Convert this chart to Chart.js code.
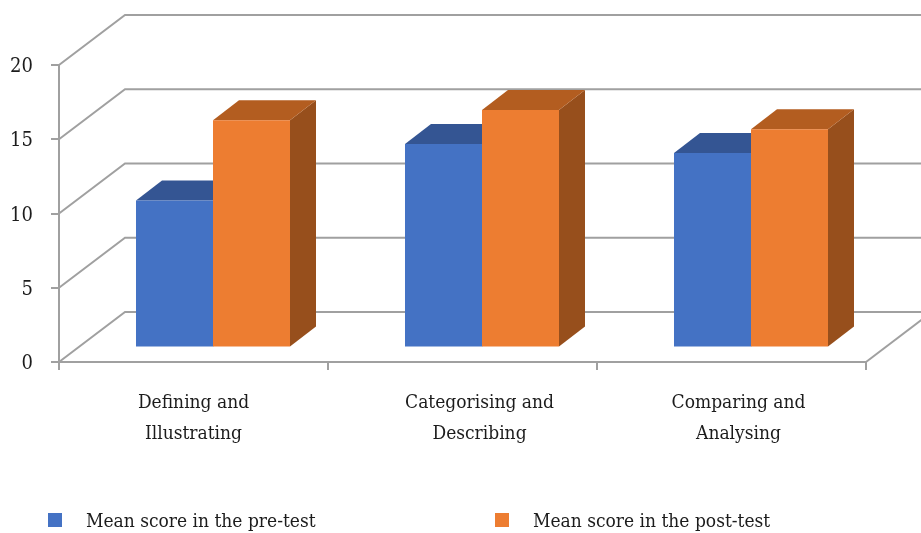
<!DOCTYPE html>
<html>
<head>
<meta charset="utf-8">
<title>Mean scores</title>
<script src="https://cdn.jsdelivr.net/npm/chart.js@4"></script>
<style>
    html, body { margin: 0; padding: 0; background: #fff; }
    canvas { display: block; }
</style>
</head>
<body>
<canvas id="scoreChart" width="921" height="533"></canvas>
<script>
const categories = [
    ['Defining and', 'Illustrating'],
    ['Categorising and', 'Describing'],
    ['Comparing and', 'Analysing']
];
const preTest = [9.9, 13.7, 13.1];
const postTest = [15.3, 16, 14.7];
const yTicks = [0, 5, 10, 15, 20];

const fontFamily = '"DejaVu Serif Condensed", "Liberation Serif", serif';
const fontSize = 19;
const gridColor = '#a0a0a0';
const textColor = '#1c1c1c';

// oblique projection of the fake 3D box
const wall = { dx: 66, dy: -50 };    // front plane to back wall
const barShift = { dx: 19.5, dy: -14.5 }; // bars stand a bit inside the floor
const barDepth = { dx: 26, dy: -20 };

// the labels in the picture are not centred on their slots
const labelNudge = [0, 17, 7];

function fillPoly(ctx, color, pts) {
    ctx.fillStyle = color;
    ctx.beginPath();
    pts.forEach(function(p, i) {
        if (i === 0) ctx.moveTo(p[0], p[1]);
        else ctx.lineTo(p[0], p[1]);
    });
    ctx.closePath();
    ctx.fill();
}

const box3d = {
    id: 'box3d',
    beforeDraw: function(chart) {
        const xScale = chart.scales.x;
        const yScale = chart.scales.y;
        xScale.getLabelItems(chart.chartArea).forEach(function(item, i) {
            item.options.translation[0] = xScale.getPixelForTick(i) + labelNudge[i];
        });
        // this font sits a little high on the middle baseline
        yScale.getLabelItems(chart.chartArea).forEach(function(item, i) {
            item.options.translation[1] = yScale.getPixelForTick(i) + 2;
        });
    },
    beforeDatasetsDraw: function(chart) {
        const ctx = chart.ctx;
        const area = chart.chartArea;
        const yScale = chart.scales.y;

        // side wall and back wall lines
        ctx.save();
        ctx.strokeStyle = gridColor;
        ctx.lineWidth = 2;
        yTicks.forEach(function(v) {
            const y = yScale.getPixelForValue(v);
            ctx.beginPath();
            ctx.moveTo(area.left, y);
            ctx.lineTo(area.left + wall.dx, y + wall.dy);
            ctx.lineTo(area.right + wall.dx, y + wall.dy);
            ctx.stroke();
        });
        // right edge of the floor
        ctx.beginPath();
        ctx.moveTo(area.right, area.bottom);
        ctx.lineTo(area.right + wall.dx, area.bottom + wall.dy);
        ctx.stroke();
        ctx.restore();

        // top and side faces go under the front faces
        ctx.save();
        ctx.translate(barShift.dx, barShift.dy);
        chart.data.datasets.forEach(function(ds, i) {
            chart.getDatasetMeta(i).data.forEach(function(bar) {
                const l = bar.x - bar.width / 2;
                const r = bar.x + bar.width / 2;
                fillPoly(ctx, ds.sideColor, [
                    [r, bar.y],
                    [r + barDepth.dx, bar.y + barDepth.dy],
                    [r + barDepth.dx, bar.base + barDepth.dy],
                    [r, bar.base]
                ]);
                fillPoly(ctx, ds.topColor, [
                    [l, bar.y],
                    [l + barDepth.dx, bar.y + barDepth.dy],
                    [r + barDepth.dx, bar.y + barDepth.dy],
                    [r, bar.y]
                ]);
            });
        });
        ctx.restore();

        // fronts are drawn by Chart.js, just moved into the box
        ctx.save();
        ctx.translate(barShift.dx, barShift.dy);
    },
    afterDatasetsDraw: function(chart) {
        chart.ctx.restore();
    }
};

// legend has a wide gap after the swatch, so it is drawn by hand
const legendSpots = [{ box: 48, text: 86 }, { box: 495, text: 533 }];
const wideLegend = {
    id: 'wideLegend',
    afterDraw: function(chart) {
        const ctx = chart.ctx;
        ctx.save();
        ctx.font = fontSize + 'px ' + fontFamily;
        ctx.textBaseline = 'middle';
        chart.data.datasets.forEach(function(ds, i) {
            ctx.fillStyle = ds.backgroundColor;
            ctx.fillRect(legendSpots[i].box, 513, 14, 14);
            ctx.fillStyle = textColor;
            ctx.fillText(ds.label, legendSpots[i].text, 522);
        });
        ctx.restore();
    }
};

new Chart(document.getElementById('scoreChart'), {
    type: 'bar',
    data: {
        labels: categories,
        datasets: [{
            label: 'Mean score in the pre-test',
            data: preTest,
            backgroundColor: '#4472C4',
            topColor: '#345593',
            sideColor: '#2b4a80'
        }, {
            label: 'Mean score in the post-test',
            data: postTest,
            backgroundColor: '#ED7D31',
            topColor: '#B35D20',
            sideColor: '#974F1C'
        }]
    },
    options: {
        responsive: false,
        animation: false,
        layout: {
            padding: { top: 65, right: 55 }
        },
        plugins: {
            legend: { display: false },
            tooltip: { enabled: false }
        },
        datasets: {
            bar: {
                categoryPercentage: 0.5725,
                barPercentage: 1
            }
        },
        scales: {
            x: {
                afterFit: function(scale) { scale.height = 171; },
                grid: {
                    drawOnChartArea: false,
                    color: gridColor,
                    lineWidth: 2,
                    tickLength: 8
                },
                border: { color: gridColor, width: 2 },
                ticks: {
                    color: textColor,
                    maxRotation: 0,
                    autoSkip: false,
                    padding: 18,
                    font: { family: fontFamily, size: fontSize, lineHeight: 1.63 }
                }
            },
            y: {
                min: 0,
                max: 20,
                afterFit: function(scale) { scale.width = 59; },
                grid: {
                    drawOnChartArea: false,
                    color: gridColor,
                    lineWidth: 2,
                    tickLength: 8
                },
                border: { color: gridColor, width: 2 },
                ticks: {
                    color: textColor,
                    stepSize: 5,
                    padding: 18,
                    font: { family: fontFamily, size: 20 }
                }
            }
        }
    },
    plugins: [box3d, wideLegend]
});
</script>
</body>
</html>
